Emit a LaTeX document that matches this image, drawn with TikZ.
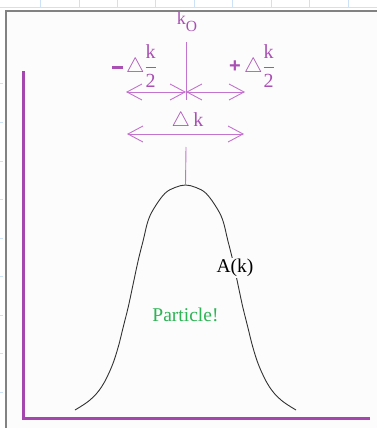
\documentclass[tikz,border=0pt]{standalone}
\usepackage{amsmath}
\usepackage{fontspec}
\setmainfont{Liberation Serif}
\setsansfont{Liberation Sans}
\usetikzlibrary{arrows.meta}
\definecolor{axpurple}{RGB}{165,70,175}
\definecolor{lnpurple}{RGB}{195,115,205}
\definecolor{txpurple}{RGB}{170,80,180}
\definecolor{partgreen}{RGB}{45,180,85}
\definecolor{gridblue}{RGB}{205,225,248}
\definecolor{framegray}{RGB}{130,130,130}
\definecolor{panel}{RGB}{252,252,252}
\newcommand{\bigtxt}{\fontsize{19.5}{22}\selectfont}
\newcommand{\midtxt}{\fontsize{18}{20}\selectfont}
\newcommand{\fractxt}{\fontsize{20}{22}\selectfont}
\newcommand{\boldminus}{$\vcenter{\hbox{\rule{10.5pt}{2.8pt}}}$}
\begin{document}
\begin{tikzpicture}[x=1pt,y=-1pt,
  lbl/.style={inner sep=0pt, font=\bigtxt},
  purplelbl/.style={inner sep=0pt, font=\midtxt, text=txpurple},
  fraclbl/.style={inner sep=0pt, font=\fractxt, text=txpurple},
  dimarrow/.style={draw=lnpurple, line width=0.9pt,
    {Straight Barb[length=15pt,width=16pt]}-{Straight Barb[length=15pt,width=16pt]}},
  guide/.style={draw=lnpurple, line width=0.9pt},
  axis/.style={draw=axpurple, line width=3pt},
  gridline/.style={draw=gridblue, line width=0.8pt},
  curve/.style={draw=black!80, line width=0.9pt}
]
\useasboundingbox (0,0) rectangle (377,428);
% background
\fill[white] (0,0) rectangle (377,428);
\fill[panel] (6,11) rectangle (377,428);
% screen grid
\draw[gridline] (0,7) -- (377,7);
\foreach \gx in {40.7,79,117,155.7,194,232,271,309,348}
  \draw[gridline] (\gx,0) -- (\gx,7);
\foreach \gy in {83,122,161,199,238,276,315,353,392}
  \draw[gridline] (0,\gy) -- (2.5,\gy);
% frame
\draw[framegray, line width=1.6pt] (6,428) -- (6,11) -- (377,11);
% axes
\coordinate (ytop) at (23,71);
\coordinate (origin) at (23,418);
\coordinate (xend) at (370,418);
\draw[axis] (ytop) -- (origin) -- (xend);
% curve
\draw[curve] plot[smooth, tension=0.6] coordinates {
  (75,410) (90,400) (101.7,386.7) (111.7,366.7) (118.3,346.7) (123.3,326.7)
  (128.3,306.7) (133.3,283.3) (138.3,260) (143.3,240) (148.3,220) (155,206.7)
  (165,193.3) (175,187.5) (185.5,185)
  (196,187.5) (206,193.3) (216,206.7) (222.7,220) (227.7,240) (232.7,260)
  (237.7,283.3) (242.7,306.7) (247.7,326.7) (252.7,346.7) (259.3,366.7)
  (269.3,386.7) (281,400) (296,410)};
\coordinate (peak) at (185.5,185);
% labels
\node[purplelbl] (ko) at (187,22) {k\raisebox{-7.5pt}{\fontsize{15.5}{16}\selectfont O}};
\node[fraclbl] (minus) at (134.5,66)
  {\boldminus\,$\triangle\dfrac{\mbox{k}}{\mbox{2}}$};
\node[fraclbl] (plus) at (252,66)
  {{\sffamily\bfseries +}\,$\triangle\dfrac{\mbox{k}}{\mbox{2}}$};
\node[fraclbl] (dk) at (187.5,121.5) {$\triangle$\,k};
% guide lines
\coordinate (gtop) at (186,42);
\coordinate (gmid) at (186,100);
\coordinate (glow) at (186,147);
\coordinate (ctr) at (186,92);
\coordinate (hl) at (126,92);
\coordinate (hr) at (245,92);
\coordinate (fl) at (127,134);
\coordinate (fr) at (244,134);
\draw[guide] (gtop) -- (gmid);
\draw[guide] (glow) -- (peak);
\draw[dimarrow] (hl) -- (ctr);
\draw[dimarrow] (ctr) -- (hr);
\draw[dimarrow] (fl) -- (fr);
% curve labels
\node[lbl, fill=panel, inner sep=1pt] (ak) at (235,268) {A(k)};
\node[lbl, text=partgreen] (part) at (185.5,315) {Particle!};
\end{tikzpicture}
\end{document}
